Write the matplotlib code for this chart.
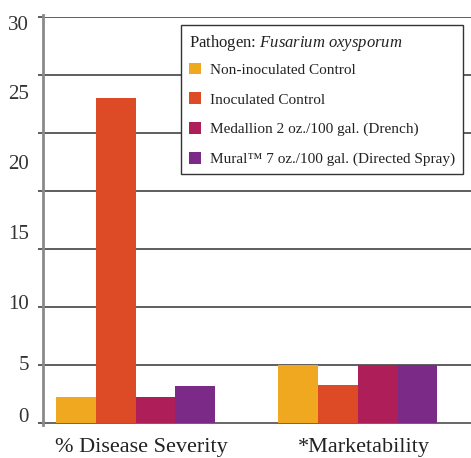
import matplotlib
matplotlib.use("Agg")
import matplotlib.pyplot as plt
import matplotlib.transforms as mtransforms
from matplotlib.patches import Patch
import numpy as np

# ---- data ----
categories = ["% Disease Severity", "*Marketability"]
series_names = ["Non-inoculated Control", "Inoculated Control",
                "Medallion 2 oz./100 gal. (Drench)",
                "Mural\u2122 7 oz./100 gal. (Directed Spray)"]
non_inoculated = [2.2, 5.0]
inoculated = [28.0, 3.3]
medallion = [2.2, 5.0]
mural = [3.2, 5.0]
tick_labels = ["30", "25", "20", "15", "10", "5", "0"]

# ---- style ----
colors = ["#F0A820", "#DD4A26", "#AE1E58", "#7B2A88"]
FAM = ['Liberation Serif', 'DejaVu Serif']
plt.rcParams['font.family'] = FAM
plt.rcParams['mathtext.fontset'] = 'custom'
plt.rcParams['mathtext.rm'] = 'Liberation Serif'
plt.rcParams['mathtext.it'] = 'Liberation Serif:italic'

W, H = 471, 458
fig = plt.figure(figsize=(W / 100, H / 100), dpi=100)
ax = fig.add_axes([43 / W, 1 - 423 / H, (471 - 43) / W, (423 - 17) / H])

series = [non_inoculated, inoculated, medallion, mural]
x = np.arange(len(categories))
bw = 0.18
for i, (vals, c, name) in enumerate(zip(series, colors, series_names)):
    ax.bar(x + (i - 1.5) * bw, vals, width=bw, color=c, zorder=3,
           edgecolor='none', label=name)

ax.set_xlim(-0.4167, 1.511)
ax.set_ylim(0, 35)

# gridlines every 5 units
for v in np.arange(5, 36, 5):
    ax.axhline(v, color='#333333', lw=1.1, zorder=1)
ax.set_yticks(np.arange(0, 36, 5), minor=True)
ax.tick_params(axis='y', which='minor', length=3.5, width=1.1, color='#333333', direction='out')

# tick labels positioned as in the reference
label_pos = [34.5, 28.5, 22.5, 16.5, 10.4, 5.17, 0.7]
ax.set_yticks(label_pos)
ax.set_yticklabels(tick_labels, fontsize=15, color='#333333', fontfamily=FAM)
ax.tick_params(axis='y', which='major', length=0, pad=10)

ax.set_xticks(x)
ax.set_xticklabels(categories, fontsize=16, color='#222222', fontfamily=FAM)
ax.tick_params(axis='x', length=0, pad=11)
off = mtransforms.ScaledTranslation(6 / 100, 0, fig.dpi_scale_trans)
for lab in ax.get_xticklabels():
    lab.set_transform(lab.get_transform() + off)

for s in ['top', 'right']:
    ax.spines[s].set_visible(False)
ax.spines['left'].set_color('#8a8a8a')
ax.spines['left'].set_linewidth(2.0)
ax.spines['left'].set_bounds(-0.2, 35.2)
ax.spines['bottom'].set_color('#666666')
ax.spines['bottom'].set_linewidth(1.4)
ax.spines['left'].set_zorder(4)

handles = [Patch(facecolor=c, edgecolor='none') for c in colors]
leg = fig.legend(handles, series_names, loc='upper left',
                 bbox_to_anchor=(181 / W, 1 - 25 / H),
                 bbox_transform=fig.transFigure, borderaxespad=0,
                 title=r"Pathogen: $\it{Fusarium\ oxysporum}$",
                 title_fontsize=12, fontsize=11, alignment='left',
                 handlelength=0.8, handleheight=0.8, handletextpad=0.6,
                 labelspacing=1.02, borderpad=0.5, fancybox=False,
                 framealpha=1, edgecolor='#333333')
try:
    leg._legend_box.sep = max(leg._legend_box.sep - 4, 0)
except Exception:
    pass
leg.get_frame().set_linewidth(1.0)
for t in leg.get_texts():
    t.set_color('#222222')
    t.set_fontfamily(FAM)
leg.get_title().set_color('#222222')

fig.savefig("out.png", dpi=100)
